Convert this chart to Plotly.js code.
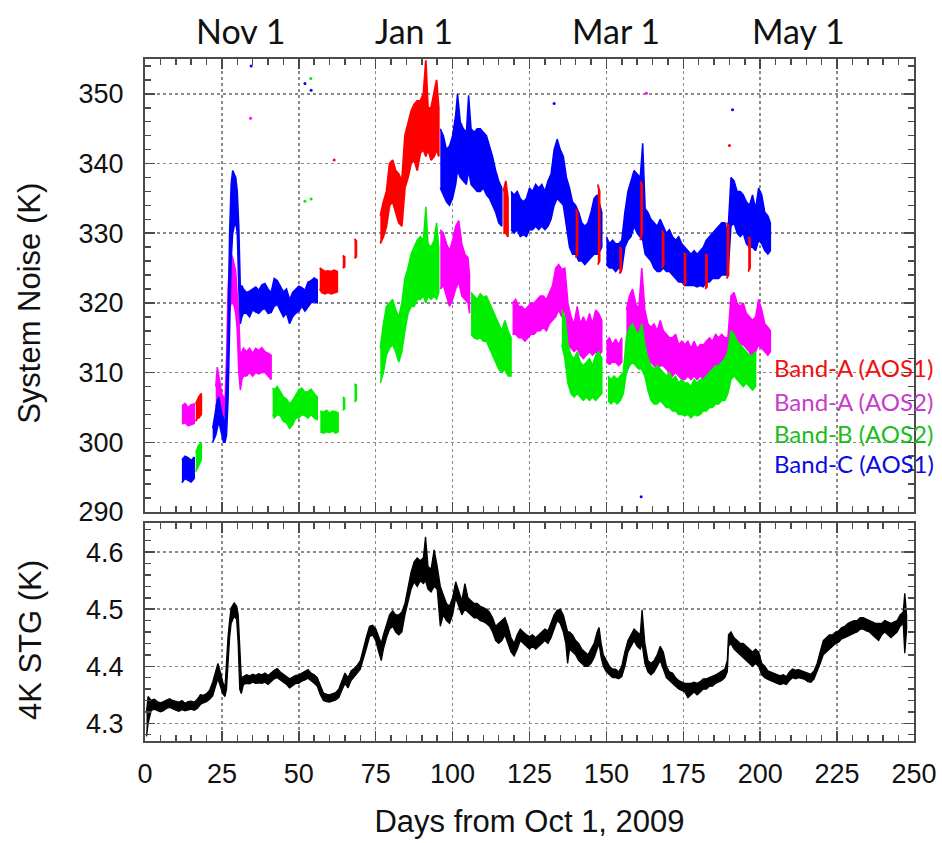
<!DOCTYPE html>
<html>
<head>
<meta charset="utf-8">
<script src="https://cdn.plot.ly/plotly-3.0.1.min.js"></script>
<style>
  html, body { margin: 0; padding: 0; background: #fff; }
  #chart { width: 942px; height: 843px; }
</style>
</head>
<body>
<div id="chart"></div>
<script>
// Receiver noise temperature per band, as [day, low, high] envelopes (K).
// A null row breaks the trace where the band was not observed.
const bandC_AOS1 = [
  [12,294.2,297.5],[13,294.8,298],[14,294.5,297.8],[15,294.3,297.4],[16,294.8,297.9], null,
  [22,300,302],[22.5,300.5,303.5],[23,301,304.5],[23.5,302,306],[24,303,306.5],[24.5,302,305],
  [25,301,304],[25.5,300,303.5],[26,300,302.5],[26.5,301,308],[27,306,316],[27.5,314,330],
  [28,326,337],[28.5,330,339],[29,331,338.5],[29.5,331.5,338],[30,330,336],[30.5,322,331],
  [31,317,322],[31.5,318,322.5],[32,318.5,322],[33,318.5,321.5],[34,318,321.7],[35,319,322],
  [36,318.7,322.3],[37,318.5,321.8],[38,319,322.6],[39,319.2,322.8],[40,318.5,322],[41,318.6,321.5],
  [42,319.5,323.5],[43,319.8,323.2],[44,319,322.3],[45,318,321.6],[46,318.5,322],[47,317,320.5],
  [48,318,321.5],[49,318.5,322],[50,318.8,322.4],[51,319.5,322.2],[52,318.8,321.8],[53,319.3,323],
  [54,320,323.2],[55,320.2,323.6],[56,320,323.3], null,
  [96,336.5,345],[97,335.5,344],[98,334.5,342],[99,334,342.5],[100,335,344],[101,337,347],
  [101.6,339,350],[102.5,338,346],[103.5,337.5,345],[104.5,337,344.5],[105.2,339,349.8],[106,337,345],
  [107,336.5,344.5],[108,336,345],[109,336,345],[110,336.5,344.5],[111,335.5,344],[112,335,342.5],
  [113,334,341],[114,333,339],[115,331.5,337.5],[116,331,336.5], null,
  [119,330.5,336],[120,330,335.5],[121,330.5,336],[122,329.5,335],[123,329.8,334.5],[124,329.5,335],
  [125,330.5,336.5],[126,330.5,336],[127,331,337],[128,330.5,336.5],[129,331,337],[130,330.5,336],
  [131,331,337.5],[132,332,338.5],[133,334,342],[134,335,343.5],[135,334.5,342],[136,334,341],
  [137,331,338],[138,328,336.5],[139,327,334.5],[140,327,334],[141,326,333],[142,326,331.5],
  [143,325.5,331],[144,326,331.5],[145,326.5,333],[146,327,335],[147,327,335.5],[148,327.5,334],
  [148.5,328,333], null,
  [150,325.5,329.5],[151,325,328.5],[152,325,329],[153,324.5,328.5],[154,325,328.5],[155,324.8,329],
  [156,328,333],[157,329,336],[158,329.5,337.5],[159,331,339],[160,330,338.5],[161,329.5,338],
  [161.8,329,342.9],[162.6,327,333.5],[163.5,326.5,333],[164.5,326,332],[165.5,325,331.5],[166.5,324.5,331],
  [167.5,324.5,332],[168.5,325,331],[169.5,324.5,330],[170.5,324.5,330.5],[171.5,324,329.5],[172.5,323.5,329],
  [173.5,323,329.5],[174.5,323,328.5],[175.5,322.5,328],[176.5,322.5,327.5],[177.5,322.5,327],[178.5,322.5,327.5],
  [179.5,322.3,327],[180.5,322.5,327.5],[181.5,322.3,328],[182.5,323,329],[183.5,323,329.5],[184.5,323.5,330],
  [185.5,323.5,330.5],[186.5,323.5,331],[187.5,324,331.5],[188.5,324,331.5],[189.5,324,330],[190.5,331,338],
  [191.5,331.5,337.5],[192.5,330,336],[193.5,329.5,336],[194.5,330,335.5],[195.5,328.5,334.5],[196.5,328,334],
  [197.5,328,335.5],[198.5,327.5,333.5],[199.5,329,336.5],[200.5,328.5,335.5],[201.5,327.5,333],[202.5,327,332.5],
  [203.3,327.5,331.5]
];

const bandA_AOS1 = [
  [16.5,303,305.5],[17,303.5,306],[17.5,303.5,306.5],[18.3,304,307], null,
  [56.8,322,325],[57.5,321.5,324.8],[58.5,321.3,324.5],[59.5,321.5,324.6],[60.5,321.3,324.5],
  [61.5,321.5,324.7],[62.5,321.6,324.5], null,
  [64.3,325,326.8],[64.9,325.2,326.6], null,
  [68.1,326.4,329.2],[68.7,326.6,328.9], null,
  [76.5,328.5,332.5],[77.5,329.5,334.5],[78.5,331,336],[79.5,334,340],[80.5,334.5,340.5],[81.5,333,339],
  [82.5,331.5,338.5],[83.5,331,337.5],[84.5,336.5,344],[85.5,338,346],[86.5,340,347.5],[87.5,340.5,348.5],
  [88.5,339,349],[89.5,341.5,349],[90.5,342,350],[91.3,341,354.8],[92,342,348],[93,340.5,348],
  [94,341,350.5],[94.8,342,352],[95.5,341,348], null,
  [116.5,330,336],[117.3,330,337.5],[118,329.5,335], null,
  [140,326.5,333.5],[140.6,327,333], null,
  [147.2,325.5,337],[147.8,326,336], null,
  [154.2,324.2,328],[154.8,324.5,327.8], null,
  [161.0,329,337.5],[161.6,330,337], null,
  [168.0,325,330.4],[168.6,325.5,330], null,
  [175.1,322.5,327.2],[175.7,322.8,327], null,
  [182.1,322,327],[182.7,322.3,326.8], null,
  [189.1,323.5,331.5],[189.7,324,331], null,
  [196.1,324.5,329.5],[196.7,325,329.2]
];

const bandA_AOS2 = [
  [12,302.6,305.2],[13,302.8,305.6],[14,302.4,305],[15,302.5,305.4],[16,302.7,305.5], null,
  [23,305,308],[23.5,306,310.8],[24,305,309.5],[24.5,304.5,308],[25,304,307],[25.5,303.5,306.5],
  [26,304,306],[26.5,306,312],[27,315,322],[27.5,319,326],[28,320,327],[28.5,320,326.5],
  [29,319.5,325.5],[29.5,318.5,324.5],[30,316,321],[30.5,310,318],[31,307.5,312],[31.5,309,313],
  [32,309.5,313.5],[33,309.5,313],[34,310,313.5],[35,309.5,312.8],[36,310,313.5],[37,309.8,313.2],
  [38,310,313.6],[39,310,313],[40,309.5,312.8],[41,309,312.5], null,
  [96,322,330.5],[97,322.5,330],[98,321,328.5],[99,319.5,327.5],[100,320.5,329],[101,322,331],
  [102,323,331.8],[103,321,328.5],[104,320.5,327],[105,320,326.5],[105.5,318.5,324], null,
  [119.5,315.5,320],[120.5,315.5,320.5],[121.5,315,319.5],[122.5,315,319.5],[123.5,314.5,319],
  [124.5,315,319.5],[125.5,315.5,320],[126.5,315.5,320],[127.5,316,320.5],[128.5,316,321],
  [129.5,316.5,321],[130.5,316,320.5],[131.5,317,321.5],[132.5,317.5,322.5],[133.5,318,325],
  [134.5,319,325.5],[135.5,318,324.8],[136.5,319,325],[137.5,314,320],[138.5,313.5,318],
  [139.5,313,317],[140.5,313.5,319.5],[141.5,312.5,317],[142.5,312,318],[143.5,312.5,317],
  [144.5,313,318.5],[145.5,312.5,317],[146.5,313,319],[147.5,312.5,318.5],[148.5,313,317.5], null,
  [150,311.5,314.5],[151,311.2,315],[152,311.5,314],[153,311.5,314.8],[154,311,314],[155,311.5,315], null,
  [156.5,313.5,319],[157.5,314,321],[158.5,314.5,322],[159.5,314,320],[160.5,313.5,319],[161.5,314,325],
  [162.5,313,319],[163.5,312,317],[164.5,311.5,316.5],[165.5,311,317],[166.5,310.5,316],[167.5,311,317.5],
  [168.5,311,316],[169.5,310.5,315.5],[170.5,310,315],[171.5,309.5,315],[172.5,310,315.5],[173.5,309.5,314],
  [174.5,309,314.5],[175.5,309,314],[176.5,309.5,314.5],[177.5,309,313.5],[178.5,309.5,314.5],[179.5,309,313.5],
  [180.5,309.5,314],[181.5,309,314],[182.5,309.5,314.5],[183.5,310,315],[184.5,310,314.5],[185.5,310,315.5],
  [186.5,310.5,315],[187.5,310,315.5],[188.5,310,315],[189.5,310.5,315],[190.5,315,321],[191.5,316,321.5],
  [192.5,314.5,320],[193.5,314,319.5],[194.5,314,320],[195.5,313.5,318.5],[196.5,313,318],[197.5,312,317.5],
  [198.5,313,318],[199.5,314,320.5],[200.5,313.5,319],[201.5,313,317],[202.5,312.5,316.5],[203.3,313,316]
];

const bandB_AOS2 = [
  [16.5,295.8,298.5],[17.3,296.5,299.5],[18.3,297.5,300], null,
  [41.5,304,307.8],[42,303.5,307.5],[43,304,308],[44,303.8,307.3],[45,303,306.5],[46,302.8,306.2],
  [47,302,305.5],[48,302.5,306],[49,303.5,306.8],[50,303.5,307.5],[51,304,307.8],[52,303.8,307.2],
  [53,303.5,307.3],[54,304,307.6],[55,303.5,307],[56,303.2,306.5], null,
  [57,301.5,304.5],[58,301.3,304.3],[59,301.5,304.6],[60,301.4,304.2],[61,301.6,304.5],[62,301.3,304.4],
  [62.8,301.5,304.2], null,
  [64.3,304.6,306.5],[64.9,304.8,306.3], null,
  [68.1,305.8,308.4],[68.7,306,308.2], null,
  [76.5,308.5,313.5],[77.5,310,317],[78.5,312.5,319.5],[79.5,313.5,320],[80.5,314,320.5],[81.5,313,319],
  [82.5,311.5,318],[83.5,313,320],[84.5,316,323.5],[85.5,318.5,325],[86.5,319.5,327],[87.5,319.5,328],
  [88.5,320.5,329],[89.5,320.5,329.5],[90.5,321,329],[91.3,320,333.8],[92,321,328.5],[93,320.5,328],
  [94,321,329],[94.8,320.5,331.5],[95.5,321.5,328], null,
  [106,315.5,321.5],[107,315,321],[108,314.8,320.5],[109,315,321.3],[110,314.5,320.8],[111,314.5,321],
  [112,313.5,320],[113,312.5,319],[114,311.5,318],[115,310.5,317],[116,310,316],[117,310.5,317.5],
  [118,309.5,316],[119,309.5,315], null,
  [135.5,314,319],[136.5,312,318],[137.5,308.5,314],[138.5,307,312.5],[139.5,306.5,312],[140.5,307,313],
  [141.5,306.5,311.5],[142.5,306,311],[143.5,306.5,311.5],[144.5,306,312],[145.5,306.5,311],[146.5,306,312.5],
  [147.5,306.5,313],[148.5,307,312], null,
  [150.5,306,309.5],[151.5,305.5,309],[152.5,306,309.5],[153.5,305.5,309],[154.5,306,309.5],[155.5,307,310],
  [156.5,310,315],[157.5,311,316.5],[158.5,311.5,317],[159.5,311,316],[160.5,310.5,315.5],[161.5,310.5,317],
  [162.5,309.5,314],[163.5,307.5,312],[164.5,306,311],[165.5,305.5,310.5],[166.5,305.5,311],[167.5,306,310.5],
  [168.5,305.5,310],[169.5,305,309.5],[170.5,305,310],[171.5,304.5,309],[172.5,304.5,309.5],[173.5,304,308.5],
  [174.5,304,309],[175.5,303.8,308.5],[176.5,304,308.5],[177.5,303.5,308],[178.5,304,309],[179.5,303.8,308.5],
  [180.5,304,309],[181.5,304.5,309],[182.5,304.5,309.5],[183.5,305,310],[184.5,305,310.5],[185.5,305.5,311],
  [186.5,305.5,311],[187.5,306,311.5],[188.5,306,312],[189.5,307,313],[190.5,309,316],[191.5,309.5,315.5],
  [192.5,309,314.5],[193.5,308.5,314],[194.5,308,313.5],[195.5,308.5,313],[196.5,308,312.5],[197.5,307.5,312.5],
  [198.5,308,313]
];

// Isolated readings away from the main bands, as [day, K]
const bandC_AOS1_stray = [[34.5,354],[52,351.5],[54,350.5],[133,348.6],[191,347.7],[161.3,292.2]];
const bandA_AOS1_stray = [[61.5,340.5],[190,342.6]];
const bandA_AOS2_stray = [[34.3,346.5],[163,350.1]];
const bandB_AOS2_stray = [[52,334.6],[54,334.9],[53.9,352.2]];

// 4K stage temperature envelope, as [day, low, high] (K)
const stage4K = [
  [0.5,4.277,4.32],[1,4.30,4.347],[2,4.322,4.340],[3,4.325,4.342],[4,4.323,4.338],[5,4.320,4.336],
  [6,4.322,4.338],[7,4.326,4.341],[8,4.328,4.343],[9,4.325,4.340],[10,4.323,4.338],[11,4.321,4.337],
  [12,4.324,4.340],[13,4.322,4.335],[14,4.323,4.338],[15,4.325,4.339],[16,4.323,4.337],[17,4.326,4.342],
  [18,4.333,4.350],[19,4.336,4.349],[20,4.338,4.352],[21,4.342,4.358],[22,4.348,4.372],[23,4.366,4.392],
  [23.7,4.378,4.405],[24.5,4.365,4.390],[25.3,4.352,4.372],[26,4.347,4.362],[26.5,4.36,4.41],[27,4.40,4.452],
  [27.5,4.45,4.48],[28,4.475,4.502],[29,4.488,4.511],[29.8,4.482,4.505],[30.3,4.44,4.49],[30.8,4.36,4.42],
  [31.3,4.352,4.38],[32,4.368,4.382],[33,4.370,4.385],[34,4.369,4.383],[35,4.372,4.386],[36,4.370,4.384],
  [37,4.371,4.387],[38,4.370,4.385],[39,4.372,4.388],[40,4.368,4.384],[41,4.373,4.389],[42,4.378,4.393],
  [43,4.380,4.396],[44,4.376,4.390],[45,4.372,4.386],[46,4.368,4.382],[47,4.362,4.378],[48,4.366,4.381],
  [49,4.370,4.384],[50,4.370,4.385],[51,4.374,4.388],[52,4.376,4.391],[53,4.379,4.394],[54,4.374,4.388],
  [55,4.370,4.385],[56,4.365,4.380],[57,4.350,4.368],[58,4.340,4.353],[59,4.338,4.351],[60,4.337,4.350],
  [61,4.339,4.352],[62,4.341,4.354],[63,4.345,4.360],[64,4.358,4.375],[65,4.370,4.388],[66,4.362,4.380],
  [67,4.375,4.392],[68,4.382,4.396],[69,4.388,4.402],[70,4.395,4.410],[71,4.412,4.432],[72,4.432,4.452],
  [73,4.452,4.470],[74,4.455,4.472],[75,4.445,4.466],[76,4.425,4.450],[76.8,4.41,4.44],[77.5,4.43,4.455],
  [78.5,4.45,4.475],[79.5,4.465,4.49],[80.5,4.47,4.497],[81.5,4.46,4.49],[82.5,4.455,4.49],[83.5,4.46,4.495],
  [84.5,4.49,4.51],[85.5,4.515,4.54],[86.5,4.535,4.565],[87.5,4.548,4.583],[88.5,4.54,4.59],[89.5,4.55,4.585],
  [90.5,4.545,4.59],[91.2,4.55,4.627],[92,4.535,4.575],[93,4.53,4.57],[94,4.54,4.604],[95,4.535,4.575],
  [96,4.47,4.54],[97,4.49,4.525],[98,4.48,4.51],[99,4.475,4.505],[100,4.49,4.52],[101,4.52,4.548],
  [102,4.505,4.53],[103,4.49,4.515],[104,4.5,4.545],[105,4.495,4.52],[106,4.49,4.515],[107,4.485,4.51],
  [108,4.485,4.51],[109,4.48,4.505],[110,4.478,4.503],[111,4.475,4.50],[112,4.47,4.495],[113,4.46,4.485],
  [114,4.445,4.47],[115,4.44,4.475],[116,4.445,4.48],[117,4.455,4.485],[118,4.44,4.47],[119,4.425,4.45],
  [120,4.418,4.44],[121,4.43,4.455],[122,4.445,4.465],[123,4.44,4.46],[124,4.435,4.455],[125,4.43,4.452],
  [126,4.435,4.455],[127,4.43,4.45],[128,4.435,4.455],[129,4.44,4.46],[130,4.445,4.465],[131,4.44,4.462],
  [132,4.45,4.475],[133,4.465,4.49],[134,4.48,4.498],[135,4.475,4.50],[136,4.46,4.49],[136.8,4.44,4.475],
  [137.4,4.405,4.46],[138,4.43,4.46],[139,4.425,4.455],[140,4.42,4.445],[141,4.41,4.44],[142,4.405,4.43],
  [143,4.40,4.425],[144,4.40,4.42],[145,4.405,4.43],[146,4.415,4.44],[147,4.43,4.46],[147.6,4.44,4.468],
  [148.3,4.415,4.44],[149,4.40,4.42],[150,4.39,4.41],[151,4.385,4.40],[152,4.38,4.395],[153,4.38,4.395],
  [154,4.378,4.39],[155,4.382,4.40],[156,4.40,4.425],[157,4.425,4.445],[158,4.435,4.455],[159,4.445,4.465],
  [160,4.435,4.46],[161,4.43,4.455],[161.6,4.44,4.499],[162.5,4.405,4.44],[163.5,4.39,4.41],[164.5,4.385,4.405],
  [165.5,4.39,4.41],[166.5,4.40,4.42],[167.5,4.41,4.435],[168.5,4.395,4.425],[169.5,4.38,4.40],[170.5,4.375,4.39],
  [171.5,4.37,4.388],[172.5,4.365,4.38],[173.5,4.36,4.375],[174.5,4.357,4.372],[175.5,4.355,4.37],[176.5,4.345,4.37],
  [177.5,4.35,4.37],[178.5,4.355,4.372],[179.5,4.35,4.37],[180.5,4.355,4.373],[181.5,4.36,4.378],[182.5,4.36,4.378],
  [183.5,4.365,4.38],[184.5,4.365,4.382],[185.5,4.37,4.385],[186.5,4.372,4.388],[187.5,4.375,4.392],[188.5,4.38,4.395],
  [189.3,4.39,4.41],[189.7,4.435,4.455],[190.5,4.44,4.46],[191.5,4.43,4.45],[192.5,4.425,4.445],[193.5,4.42,4.44],
  [194.5,4.415,4.44],[195.5,4.41,4.435],[196.5,4.405,4.43],[197.5,4.40,4.425],[198.5,4.405,4.43],[199.5,4.40,4.425],
  [200.5,4.385,4.405],[201.5,4.38,4.40],[202.5,4.377,4.392],[203.5,4.375,4.39],[204.5,4.372,4.388],[205.5,4.37,4.385],
  [206.5,4.368,4.383],[207.5,4.37,4.385],[208.5,4.368,4.382],[209.5,4.375,4.39],[210.5,4.38,4.395],[211.5,4.378,4.393],
  [212.5,4.38,4.394],[213.5,4.378,4.392],[214.5,4.377,4.39],[215.5,4.373,4.388],[216.5,4.372,4.386],[217.5,4.378,4.392],
  [218.5,4.39,4.405],[219.5,4.405,4.425],[220.5,4.42,4.445],[221.5,4.425,4.45],[222.5,4.43,4.455],[223.5,4.435,4.455],
  [224.5,4.44,4.46],[225.5,4.442,4.462],[226.5,4.448,4.468],[227.5,4.45,4.47],[228.5,4.452,4.475],[229.5,4.455,4.478],
  [230.5,4.458,4.48],[231.5,4.46,4.48],[232.5,4.465,4.485],[233.5,4.465,4.485],[234.5,4.462,4.482],[235.5,4.46,4.48],
  [236.5,4.455,4.478],[237.5,4.45,4.475],[238.5,4.445,4.475],[239.5,4.455,4.475],[240.5,4.46,4.48],[241.5,4.455,4.477],
  [242.5,4.45,4.475],[243.5,4.455,4.478],[244.5,4.46,4.48],[245.5,4.47,4.49],[246.5,4.475,4.495],[247,4.423,4.528],
  [247.6,4.465,4.49]
];

// Month markers along the top edge, as [day position, label]
const monthMarks = [[30.9,'Nov 1'],[87.5,'Jan 1'],[153.1,'Mar 1'],[212.3,'May 1']];

// Band key drawn in the band colours
const bandKey = [
  ['Band-A (AOS1)', '#f01010'],
  ['Band-A (AOS2)', '#c83cc8'],
  ['Band-B (AOS2)', '#1cbc1c'],
  ['Band-C (AOS1)', '#0a0ae6']
];

// Each run of an envelope becomes one closed polygon (high edge forward,
// low edge back); null rows separate the runs so 'toself' fills each on its own.
function envelopePolygons(rows) {
  const x = [], y = [];
  let run = [];
  const flush = () => {
    if (!run.length) return;
    run.forEach(r => { x.push(r[0]); y.push(r[2]); });
    for (let i = run.length - 1; i >= 0; i--) { x.push(run[i][0]); y.push(run[i][1]); }
    x.push(null); y.push(null);
    run = [];
  };
  rows.forEach(r => { if (r === null) flush(); else run.push(r); });
  flush();
  return { x, y };
}

function ribbon(rows, color, width, xa, ya, name) {
  const p = envelopePolygons(rows);
  return {
    type: 'scatter', mode: 'lines', x: p.x, y: p.y, name: name,
    xaxis: xa, yaxis: ya, hoverinfo: 'skip', connectgaps: false,
    fill: 'toself', fillcolor: color,
    line: { color: color, width: width }
  };
}

function strays(rows, color, name) {
  return {
    type: 'scatter', mode: 'markers', name: name,
    x: rows.map(r => r[0]), y: rows.map(r => r[1]),
    xaxis: 'x2', yaxis: 'y2', hoverinfo: 'skip',
    marker: { color: color, size: 3 }
  };
}

const RED = '#ff0000', MAG = '#ff00ff', GRN = '#00ee00', BLU = '#0000ff';

const traces = [
  ribbon(bandA_AOS2, MAG, 1.5, 'x2', 'y2', 'Band-A (AOS2)'),
  ribbon(bandB_AOS2, GRN, 1.5, 'x2', 'y2', 'Band-B (AOS2)'),
  ribbon(bandC_AOS1, BLU, 1.5, 'x2', 'y2', 'Band-C (AOS1)'),
  ribbon(bandA_AOS1, RED, 1.8, 'x2', 'y2', 'Band-A (AOS1)'),
  strays(bandA_AOS2_stray, MAG, 'Band-A (AOS2)'),
  strays(bandB_AOS2_stray, GRN, 'Band-B (AOS2)'),
  strays(bandC_AOS1_stray, BLU, 'Band-C (AOS1)'),
  strays(bandA_AOS1_stray, RED, 'Band-A (AOS1)'),
  ribbon(stage4K, '#000000', 1.3, 'x', 'y', '4K stage')
];

const FRAME = '#4a4a4a';
const GRID = '#8a8a8a';
const TICKFONT = { family: 'Liberation Sans, Arial, sans-serif', size: 27, color: '#111' };
const TITLEFONT = { family: 'Liberation Sans, Arial, sans-serif', size: 31, color: '#111' };

function axisBase(extra) {
  return Object.assign({
    showline: true, linecolor: FRAME, linewidth: 2, mirror: 'allticks',
    ticks: 'inside', ticklen: 10, tickwidth: 1.5, tickcolor: FRAME,
    showgrid: true, gridcolor: GRID, gridwidth: 1.5, griddash: 'dot',
    zeroline: false, tickfont: TICKFONT, automargin: false, fixedrange: true
  }, extra);
}

const annotations = monthMarks.map(m => ({
  text: m[1], x: m[0], xref: 'x2', y: 1.0425, yref: 'paper',
  xanchor: 'center', yanchor: 'middle', showarrow: false,
  font: { family: 'Lato, Carlito, sans-serif', size: 34, color: '#111' }
}));
const keyY = [0.547, 0.4985, 0.4516, 0.4062];
bandKey.forEach((k, i) => annotations.push({
  text: k[0], x: 0.815, xref: 'paper', y: keyY[i], yref: 'paper',
  xanchor: 'left', yanchor: 'middle', showarrow: false,
  font: { family: 'Lato, Carlito, sans-serif', size: 24, color: k[1] }
}));
// Vertical axis titles, set slightly below the middle of each panel
[['System Noise (K)', 0.641], ['4K STG (K)', 0.148]].forEach(t => annotations.push({
  text: t[0], textangle: -90, x: -0.1495, xref: 'paper', y: t[1], yref: 'paper',
  xanchor: 'center', yanchor: 'middle', showarrow: false, font: TITLEFONT
}));

const layout = {
  width: 942, height: 843,
  margin: { l: 145, r: 28, t: 59, b: 102 },
  paper_bgcolor: '#ffffff', plot_bgcolor: '#ffffff',
  showlegend: false,
  xaxis: axisBase({
    domain: [0, 1], anchor: 'y', range: [0, 250], tick0: 0, dtick: 25,
    ticklabelstandoff: 8,
    minor: { dtick: 5, ticks: 'inside', ticklen: 6, tickcolor: FRAME, showgrid: false },
    title: { text: 'Days from Oct 1, 2009', font: TITLEFONT, standoff: 22 }
  }),
  yaxis: axisBase({
    domain: [0, 0.3196], anchor: 'x', range: [4.269, 4.651], tick0: 4.3, dtick: 0.1,
    ticklabelstandoff: 14,
    minor: { dtick: 0.02, ticks: 'inside', ticklen: 6, tickcolor: FRAME, showgrid: false }
  }),
  xaxis2: axisBase({
    domain: [0, 1], anchor: 'y2', range: [0, 250], tick0: 0, dtick: 25, matches: 'x',
    showticklabels: false,
    minor: { dtick: 5, ticks: 'inside', ticklen: 6, tickcolor: FRAME, showgrid: false }
  }),
  yaxis2: axisBase({
    domain: [0.3358, 1], anchor: 'x2', range: [290, 355], tick0: 290, dtick: 10,
    ticklabelstandoff: 14,
    minor: { dtick: 2, ticks: 'inside', ticklen: 6, tickcolor: FRAME, showgrid: false }
  }),
  annotations: annotations
};

Plotly.newPlot('chart', traces, layout, { staticPlot: true, displayModeBar: false });
</script>
</body>
</html>
